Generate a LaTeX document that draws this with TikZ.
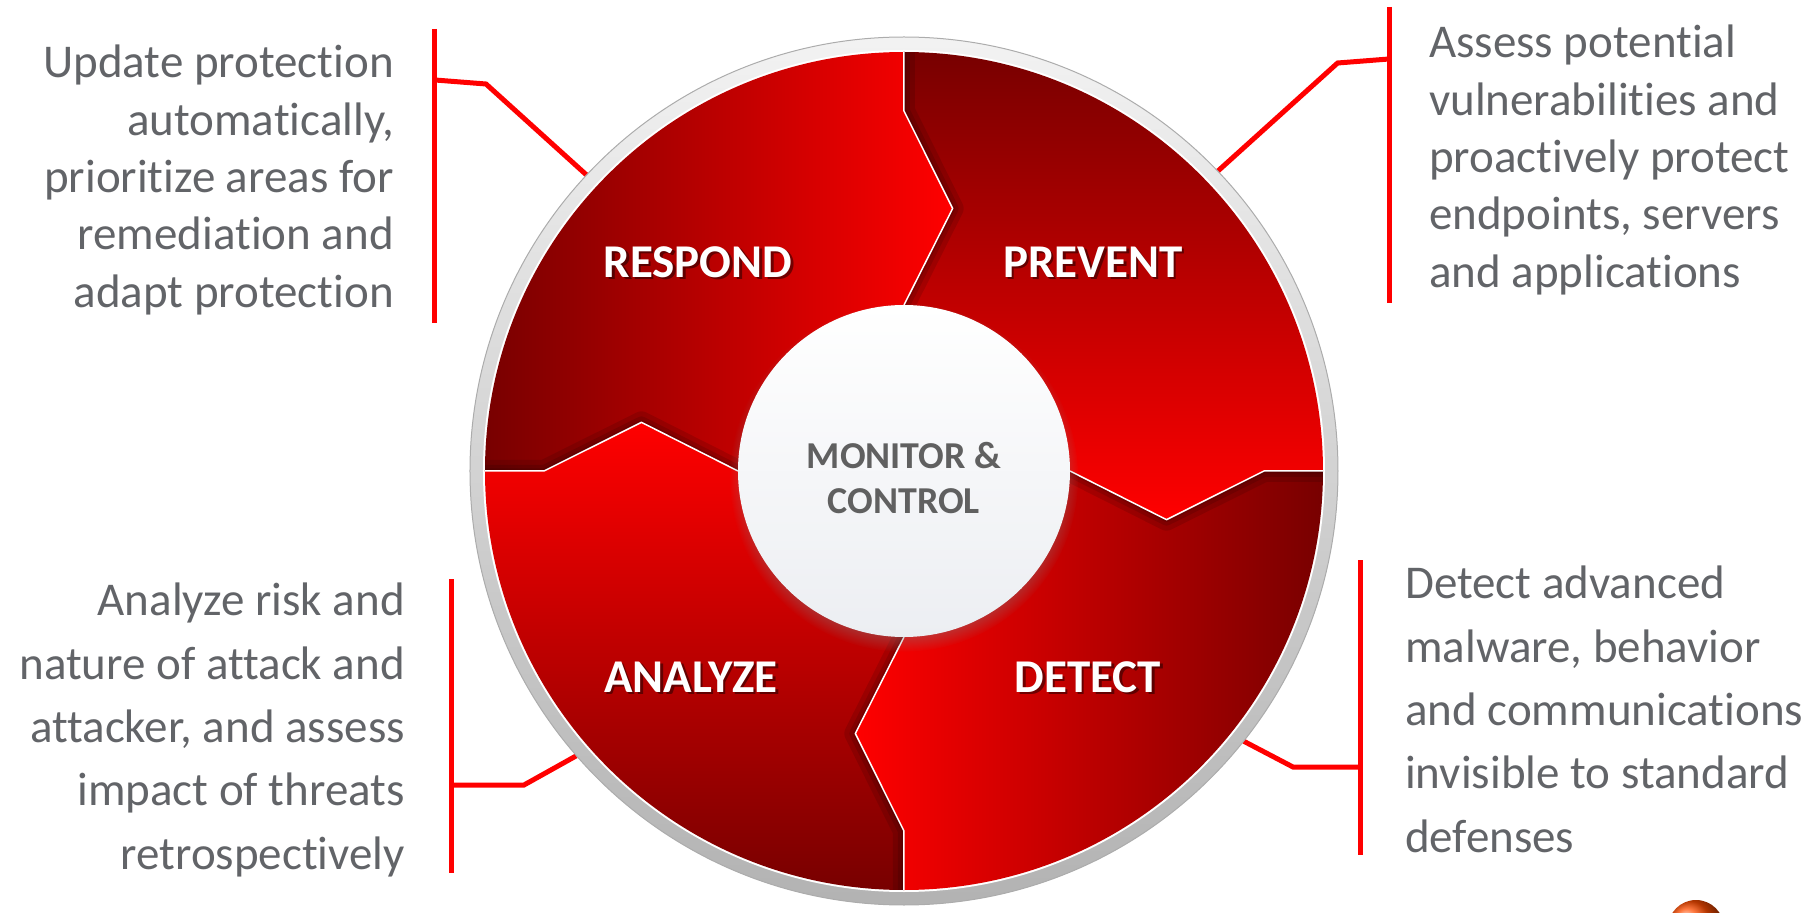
\documentclass[tikz,border=0pt]{standalone}
\usepackage{fontspec}
\setmainfont{Carlito}[Ligatures=NoCommon]
\usepackage{xcolor}
\usepackage{tikz}
\usetikzlibrary{shadows}

\definecolor{segdark}{RGB}{120,0,0}
\definecolor{segbright}{RGB}{255,0,0}
\definecolor{linkred}{RGB}{255,0,0}
\definecolor{notegray}{RGB}{98,100,104}
\definecolor{hubgray}{RGB}{96,96,96}
\definecolor{hubfill}{RGB}{236,238,242}

\begin{document}
\begin{tikzpicture}[x=1pt,y=1pt,
  link/.style={linkred,line width=5pt},
  note/.style={notegray,inner sep=0pt,font=\fontsize{47}{57.3}\selectfont},
  widenote/.style={note,font=\fontsize{47}{63.3}\selectfont},
  seglabel/.style={white,inner sep=0pt,font=\bfseries\fontsize{47}{47}\selectfont},
  segment/.style={insert path={(0,0) -- (#1:166) -- (#1-10.5:267) -- (#1:360) -- (#1:419)
    arc[start angle=#1,end angle=#1-90,radius=419] -- (#1-90:360) -- (#1-100.5:267) -- (#1-90:166) -- cycle}}]
\useasboundingbox (-904,-442) rectangle (912,471);
\clip (-904,-442) rectangle (912,471);

\node[note,anchor=north east,align=right] (respond-note) at (-510,426) {Update protection\\automatically,\\prioritize areas for\\remediation and\\adapt protection};
\node[note,anchor=north west,align=left] (prevent-note) at (525,446) {Assess potential\\vulnerabilities and\\proactively protect\\endpoints, servers\\and applications};
\node[widenote,anchor=north east,align=right] (analyze-note) at (-499,-112) {Analyze risk and\\nature of attack and\\attacker, and assess\\impact of threats\\retrospectively};
\node[widenote,anchor=north west,align=left] (detect-note) at (501,-95) {Detect advanced\\malware, behavior\\and communications\\invisible to standard\\defenses};

\coordinate (respond-top) at (-469,442);
\coordinate (respond-bottom) at (-469,148);
\coordinate (respond-tap) at (-469,391);
\coordinate (respond-knee) at (-418,387);
\coordinate (respond-rim) at (137:434);
\coordinate (prevent-top) at (485,464);
\coordinate (prevent-bottom) at (485,168);
\coordinate (prevent-tap) at (485,412);
\coordinate (prevent-knee) at (433.6,408);
\coordinate (prevent-rim) at (43.7:434);
\coordinate (analyze-top) at (-452,-108);
\coordinate (analyze-bottom) at (-452,-402);
\coordinate (analyze-tap) at (-452,-314);
\coordinate (analyze-knee) at (-380,-314);
\coordinate (analyze-rim) at (221:434);
\coordinate (detect-top) at (456,-89);
\coordinate (detect-bottom) at (456,-384);
\coordinate (detect-tap) at (456,-296);
\coordinate (detect-knee) at (389,-296);
\coordinate (detect-rim) at (-38.5:434);

\draw[link] (respond-top) -- (respond-bottom);
\draw[link] (respond-tap) -- (respond-knee) -- (respond-rim);
\draw[link] (prevent-top) -- (prevent-bottom);
\draw[link] (prevent-tap) -- (prevent-knee) -- (prevent-rim);
\draw[link] (analyze-top) -- (analyze-bottom);
\draw[link] (analyze-tap) -- (analyze-knee) -- (analyze-rim);
\draw[link] (detect-top) -- (detect-bottom);
\draw[link] (detect-tap) -- (detect-knee) -- (detect-rim);

\shade[top color=gray!10,bottom color=gray!60,draw=gray!65,line width=1pt] (0,0) circle[radius=434];
\fill[white] (0,0) circle[radius=421];

\foreach \a/\s in {180/90,90/0,0/-90,-90/-180} {
  \shade[top color=segdark,bottom color=segbright,shading angle=\s,segment=\a];
  \begin{scope}
    \clip[segment=\a];
    \draw[black,opacity=.12,line width=22pt,line join=round] (\a:166) -- (\a-10.5:267) -- (\a:360) -- (\a:419);
    \draw[black,opacity=.12,line width=12pt,line join=round] (\a:166) -- (\a-10.5:267) -- (\a:360) -- (\a:419);
    \draw[black,opacity=.12,line width=5pt,line join=round] (\a:166) -- (\a-10.5:267) -- (\a:360) -- (\a:419);
  \end{scope}
}
\foreach \a in {180,90,0,-90}
  \draw[white,line width=1.5pt] (\a:166) -- (\a-10.5:267) -- (\a:360) -- (\a:419);

\node[circle,minimum size=332pt,inner sep=0pt,top color=white,bottom color=hubfill,
  circular drop shadow={shadow xshift=0pt,shadow yshift=-6pt,shadow scale=1.05,opacity=.6}] (hub) at (0,0) {};
\node[text=hubgray,font=\bfseries\fontsize{38}{45}\selectfont,align=center] (hub-text) at (0,-7) {MONITOR \&\\CONTROL};

\foreach \name/\x/\y/\txt in {respond/-206/209/RESPOND,prevent/189/209/PREVENT,analyze/-213/-206/ANALYZE,detect/184/-206/DETECT} {
  \node[seglabel,black,opacity=.45] at (\x+2.5,\y-2.5) {\txt};
  \node[seglabel] (\name) at (\x,\y) {\txt};
}

\shade[ball color=orange!60!red] (792,-457) circle[radius=28];
\end{tikzpicture}
\end{document}
